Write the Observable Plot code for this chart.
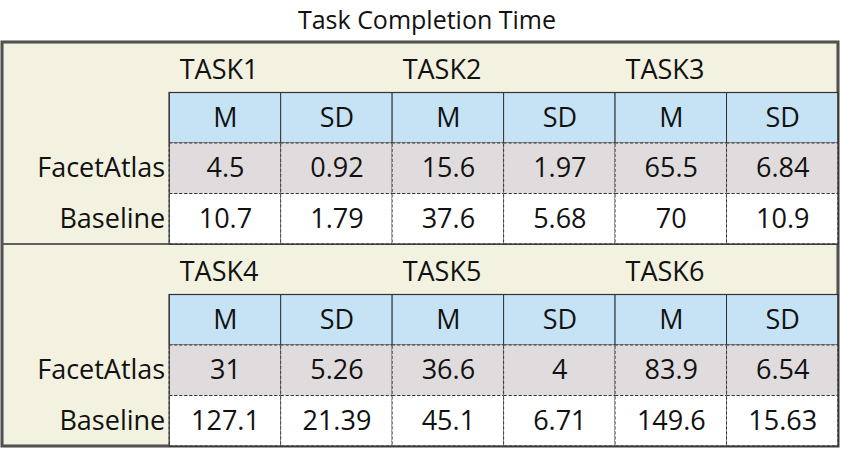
<!DOCTYPE html>
<html><head><meta charset="utf-8">
<script src="https://cdn.jsdelivr.net/npm/d3@7"></script>
<script src="https://cdn.jsdelivr.net/npm/@observablehq/plot@0.6"></script>
<style>body{margin:0;background:#fff;font-family:"Open Sans",sans-serif}
#t{height:38px;text-align:center;font-size:25px;line-height:38px;color:#111}</style>
</head><body><div id="t">Task Completion Time</div><div id="c"></div>
<script>
const tasks = ["TASK1","TASK2","TASK3","TASK4","TASK5","TASK6"];
const stats = ["M","SD"];
const methods = ["FacetAtlas","Baseline"];
const faText = ["4.5","0.92","15.6","1.97","65.5","6.84","31","5.26","36.6","4","83.9","6.54"];
const baseline = ["10.7","1.79","37.6","5.68","70","10.9","127.1","21.39","45.1","6.71","149.6","15.63"];

const cells=[], hdr=[], taskLbl=[], rowLbl=[];
for (let b=0;b<2;b++){
  const r0=b*4;
  for (let t=0;t<3;t++){
    taskLbl.push({x:t*2, y:r0, text:tasks[b*3+t]});
    for (let s=0;s<2;s++){
      const c=t*2+s, k=b*6+c;
      hdr.push({x:c,y:r0+1,text:stats[s]});
      cells.push({x:c,y:r0+2,text:faText[k],fill:"#e0dbdc"});
      cells.push({x:c,y:r0+3,text:baseline[k],fill:"#ffffff"});
    }
  }
  methods.forEach((m,i)=>rowLbl.push({x:0,y:r0+2+i,text:m}));
}
const blocks=[{y:0},{y:4}];
const txt = {fontSize:27, fill:"#111", fontFamily:"Open Sans"};
document.getElementById("c").append(Plot.plot({
  width:854, height:412, margin:0, marginLeft:2, marginRight:16, marginTop:4, marginBottom:4,
  x:{domain:[-1.5,6], axis:null}, y:{domain:[0,8], axis:null, reverse:true},
  style:{background:"#fff"},
  marks:[
    Plot.rect([{}],{x1:-1.5,x2:6,y1:0,y2:8,fill:"#f3f1df",stroke:"#444",strokeWidth:3}),
    Plot.rect(blocks,{x1:-1.5,x2:6,y1:d=>d.y,y2:d=>d.y+4,stroke:"#555",strokeWidth:1.5}),
    Plot.rect(hdr,{x1:"x",x2:d=>d.x+1,y1:"y",y2:d=>d.y+1,fill:"#c6e3f6",stroke:"#333",strokeWidth:1}),
    Plot.rect(cells,{x1:"x",x2:d=>d.x+1,y1:"y",y2:d=>d.y+1,fill:"fill",stroke:"#333",strokeWidth:1,strokeDasharray:"3,2"}),
    Plot.rect(blocks,{x1:0,x2:6,y1:d=>d.y+1,y2:d=>d.y+4,stroke:"#333",strokeWidth:1.2}),
    Plot.text(taskLbl,{x:d=>d.x+0.09,y:d=>d.y+0.55,text:"text",textAnchor:"start",...txt}),
    Plot.text(hdr,{x:d=>d.x+0.5,y:d=>d.y+0.5,text:"text",...txt}),
    Plot.text(cells,{x:d=>d.x+0.5,y:d=>d.y+0.5,text:"text",...txt}),
    Plot.text(rowLbl,{x:d=>-0.04,y:d=>d.y+0.5,text:"text",textAnchor:"end",...txt})
  ]
}));
</script></body></html>
